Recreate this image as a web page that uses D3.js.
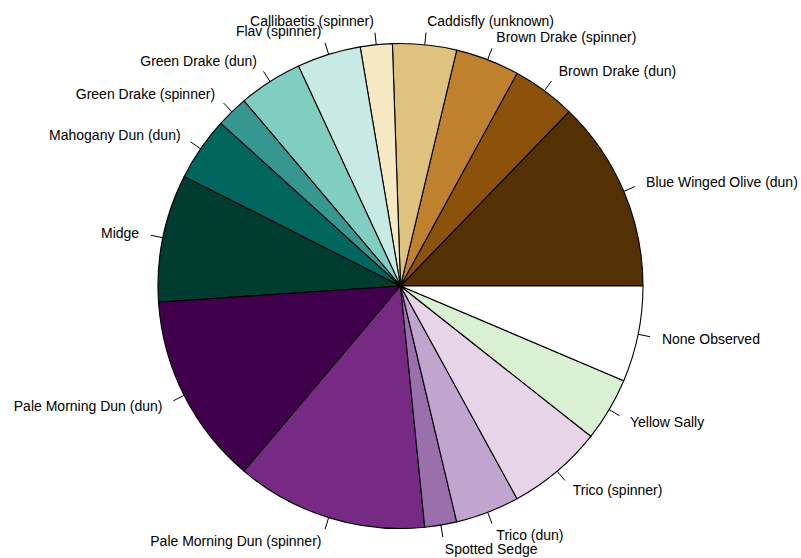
<!DOCTYPE html>
<html>
<head>
<meta charset="utf-8">
<script src="https://cdn.jsdelivr.net/npm/d3@7"></script>
<style>
  html, body { margin: 0; padding: 0; background: #ffffff; }
  svg { display: block; }
</style>
</head>
<body>
<svg id="chart" width="801" height="558"></svg>
<script>
// Hatch counts per observed insect, in drawing order
const categories = [
  "Blue Winged Olive (dun)", "Brown Drake (dun)", "Brown Drake (spinner)",
  "Caddisfly (unknown)", "Callibaetis (spinner)", "Flav (spinner)",
  "Green Drake (dun)", "Green Drake (spinner)", "Mahogany Dun (dun)",
  "Midge", "Pale Morning Dun (dun)", "Pale Morning Dun (spinner)",
  "Spotted Sedge", "Trico (dun)", "Trico (spinner)", "Yellow Sally",
  "None Observed"
];
const counts = [6, 2, 2, 2, 1, 2, 2, 1, 2, 4, 6, 6, 1, 2, 3, 2, 3];
const sliceColors = [
  "#543005", "#8c510a", "#bf812d", "#dfc27d", "#f6e8c3",
  "#c7eae5", "#80cdc1", "#35978f", "#01665e", "#003c30",
  "#40004b", "#762a83", "#9970ab", "#c2a5cf", "#e7d4e8", "#d9f0d3",
  "#ffffff"
];

const cx = 400.5, cy = 286, radius = 242.5;
const svg = d3.select("#chart");
const g = svg.append("g").attr("transform", `translate(${cx},${cy})`);

const data = categories.map((name, i) => ({ name, value: counts[i], color: sliceColors[i] }));

// Counter-clockwise from 3 o'clock (d3 angles are clockwise from 12 o'clock)
const pie = d3.pie()
  .value(d => d.value)
  .sort(null)
  .startAngle(Math.PI / 2)
  .endAngle(Math.PI / 2 - 2 * Math.PI);

const arcs = pie(data);
const arc = d3.arc().innerRadius(0).outerRadius(radius);

g.selectAll("path.slice")
  .data(arcs)
  .join("path")
  .attr("class", "slice")
  .attr("d", arc)
  .attr("fill", d => d.data.color)
  .attr("stroke", "#000")
  .attr("stroke-width", 1.1)
  .attr("stroke-linejoin", "round");

// Label position on mid-angle: tick from r to 1.05r, text at 1.1r
const mid = d => (d.startAngle + d.endAngle) / 2;
const px = (d, k) => k * radius * Math.sin(mid(d));
const py = (d, k) => -k * radius * Math.cos(mid(d));

g.selectAll("line.tick")
  .data(arcs)
  .join("line")
  .attr("class", "tick")
  .attr("x1", d => px(d, 1))
  .attr("y1", d => py(d, 1))
  .attr("x2", d => px(d, 1.05))
  .attr("y2", d => py(d, 1.05))
  .attr("stroke", "#000")
  .attr("stroke-width", 1);

g.selectAll("text.label")
  .data(arcs)
  .join("text")
  .attr("class", "label")
  .attr("x", d => px(d, 1.1))
  .attr("y", d => py(d, 1.1))
  .attr("dy", "0.35em")
  .attr("text-anchor", d => px(d, 1) < 0 ? "end" : "start")
  .attr("font-family", "'Liberation Sans', Arial, sans-serif")
  .attr("font-size", 14)
  .attr("fill", "#000")
  .text(d => d.data.name);
</script>
</body>
</html>
